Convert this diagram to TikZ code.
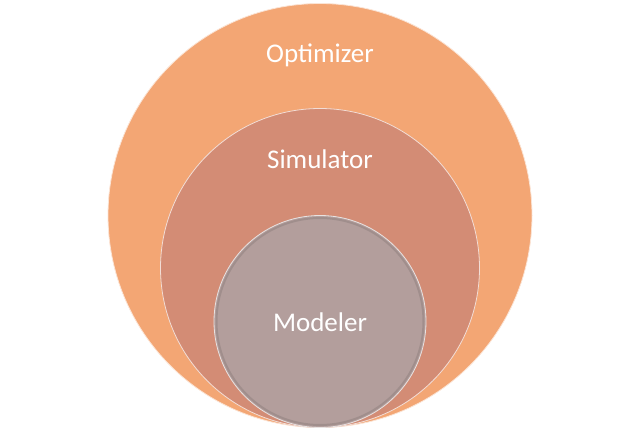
\documentclass[tikz,border=0pt]{standalone}
\usepackage{fontspec}
\setmainfont{Carlito}
\definecolor{naranja}{HTML}{F3A674}
\definecolor{salmon}{HTML}{D38C75}
\definecolor{gris}{HTML}{B39E9C}
\tikzset{
  capa/.style={circle, inner sep=0pt, draw=white!70!#1, line width=0.8pt, fill=#1},
  etiqueta/.style={text=white, font=\fontsize{27}{32}\selectfont}
}
\begin{document}
\begin{tikzpicture}[x=1pt,y=1pt]
        \useasboundingbox (0,0) rectangle (640,432);
        % Circulos anidados, tangentes abajo
        \node[capa=naranja, minimum size=424pt] (optimizador) at (320,216.5) {};
        \node[capa=salmon, minimum size=319pt] (simulador) at (320,164) {};
        \node[capa=gris, minimum size=212pt] (modelador) at (320,110.5) {};
        % Borde sombreado del circulo interior
        \draw[black!40!gris, line width=2pt, opacity=0.25] (modelador.center) circle (103.5pt);
        % Nombres de cada capa
        \node[etiqueta] (optimizer) at (320,377) {Optimizer};
        \node[etiqueta] (simulator) at (320,273) {Simulator};
        \node[etiqueta] (modeler) at (320,110) {Modeler};
    \end{tikzpicture}
\end{document}
